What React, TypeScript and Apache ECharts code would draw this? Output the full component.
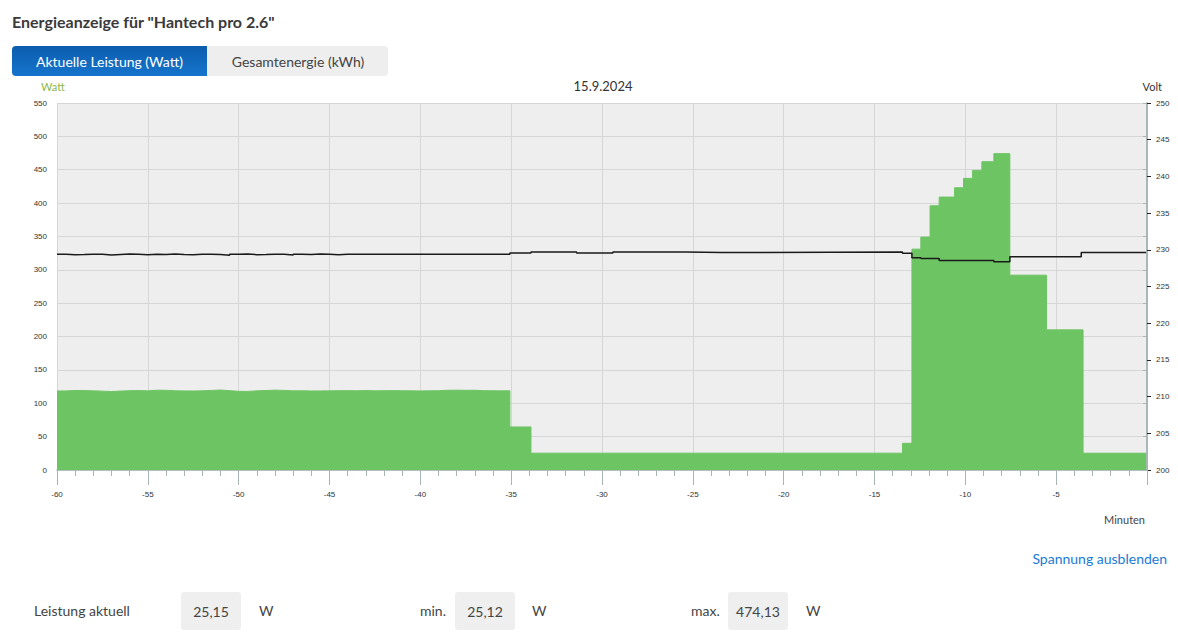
import React, { useEffect, useRef } from 'react';
import * as echarts from 'echarts';

// Power (W), step values: each value holds until the next time (minutes)
const powerTimes = [
  -60, -59.5, -59, -58.5, -58, -57.5, -57, -56.5, -56, -55.5,
  -55, -54.5, -54, -53.5, -53, -52.5, -52, -51.5, -51, -50.5,
  -50, -49.5, -49, -48.5, -48, -47.5, -47, -46.5, -46, -45.5,
  -45, -44.5, -44, -43.5, -43, -42.5, -42, -41.5, -41, -40.5,
  -40, -39.5, -39, -38.5, -38, -37.5, -37, -36.5, -36, -35.5,
  -35.07, -33.91, -13.46, -12.94, -12.45, -11.94, -11.44, -10.59, -10.1, -9.6,
  -9.09, -8.43, -7.55, -5.53, -3.52, -0.05,
];
const powerWatts = [
  118.5, 119.2, 119.0, 118.6, 118.2, 117.6, 118.3, 118.8, 119.0, 118.6,
  119.6, 119.4, 118.7, 118.5, 118.4, 118.6, 119.3, 119.8, 118.9, 117.9,
  117.8, 118.6, 119.1, 119.7, 119.2, 118.6, 118.7, 118.4, 118.5, 118.6,
  118.8, 118.9, 118.7, 119.0, 118.6, 118.8, 118.9, 118.7, 118.6, 118.5,
  118.6, 118.8, 119.5, 119.6, 119.4, 119.5, 118.9, 118.7, 118.6, 118.7,
  64.5, 25.2, 40.0, 331.0, 349.0, 396.0, 409.0, 423.0, 437.0, 449.0,
  462.0, 474.13, 292.0, 210.0, 25.15, 25.15,
];

// Voltage (V), step values
const voltTimes = [
  -60, -59.5, -59, -58.5, -58, -57.5, -57, -56.5, -56, -55.5,
  -55, -54.5, -54, -53.5, -53, -52.5, -52, -51.5, -51, -50.5,
  -50, -49.5, -49, -48.5, -48, -47.5, -47, -46.5, -46, -45.5,
  -45, -44.5, -44, -43.5, -35.07, -33.91, -31.4, -29.4, -25.4, -23.4,
  -13.46, -12.94, -12.45, -11.44, -8.43, -7.55, -3.62, -0.05,
];
const voltValues = [
  229.40, 229.32, 229.35, 229.41, 229.38, 229.30, 229.36, 229.42, 229.39, 229.33,
  229.40, 229.37, 229.43, 229.35, 229.31, 229.38, 229.41, 229.36, 229.27, 229.39,
  229.42, 229.34, 229.37, 229.41, 229.38, 229.29, 229.40, 229.36, 229.42, 229.38,
  229.33, 229.39, 229.41, 229.40, 229.55, 229.70, 229.56, 229.70, 229.62, 229.70,
  229.52, 228.90, 228.80, 228.55, 228.38, 229.06, 229.62, 229.62,
];

const dateLabel = '15.9.2024';
const leistungAktuell = '25,15';
const leistungMin = '25,12';
const leistungMax = '474,13';

const FONT = 'Lato, "Noto Sans", sans-serif';
const AXIS_FONT = '"Liberation Sans", Arial, sans-serif';

function Chart() {
  const ref = useRef<HTMLDivElement>(null);
  useEffect(() => {
    if (!ref.current) return;
    const chart = echarts.init(ref.current, undefined, { renderer: 'svg' });
    const powerData = powerTimes.map((t, i) => [t, powerWatts[i]]);
    const voltData = voltTimes.map((t, i) => [t, voltValues[i]]);
    const green = '#6dc463';
    chart.setOption({
      animation: false,
      grid: {
        left: 57,
        right: 31,
        top: 103,
        bottom: 70,
        show: true,
        backgroundColor: '#eeeeee',
        borderWidth: 0,
      },
      graphic: [
        {
          type: 'text',
          x: 603,
          y: 86,
          style: {
            text: dateLabel,
            fill: '#333333',
            font: '13px ' + FONT,
            textAlign: 'center',
            textVerticalAlign: 'middle',
          },
        },
        {
          type: 'text',
          x: 41,
          y: 86,
          style: {
            text: 'Watt',
            fill: '#8db84a',
            font: '11px ' + FONT,
            textAlign: 'left',
            textVerticalAlign: 'middle',
          },
        },
        {
          type: 'text',
          x: 1162,
          y: 86,
          style: {
            text: 'Volt',
            fill: '#333333',
            font: '11px ' + FONT,
            textAlign: 'right',
            textVerticalAlign: 'middle',
          },
        },
        {
          type: 'text',
          x: 1145,
          y: 519,
          style: {
            text: 'Minuten',
            fill: '#444444',
            font: '11px ' + FONT,
            textAlign: 'right',
            textVerticalAlign: 'middle',
          },
        },
      ],
      xAxis: {
        type: 'value',
        min: -60,
        max: 0,
        interval: 5,
        axisLine: { show: true, onZero: false, lineStyle: { color: '#a7b5b5', width: 1.5 } },
        axisTick: { show: true, length: 15, lineStyle: { color: '#a7b5b5', width: 1 } },
        minorTick: { show: true, splitNumber: 5, length: 6, lineStyle: { color: '#a7b5b5', width: 1 } },
        splitLine: { show: true, lineStyle: { color: '#d6d6d6', width: 1 } },
        axisLabel: {
          margin: 20,
          fontSize: 8,
          fontFamily: AXIS_FONT,
          color: '#333333',
          showMaxLabel: false,
        },
      },
      yAxis: [
        {
          type: 'value',
          min: 0,
          max: 550,
          interval: 50,
          axisLine: { show: true, lineStyle: { color: '#a7b5b5', width: 1.5 } },
          axisTick: { show: true, length: 4, lineStyle: { color: '#a7b5b5' } },
          splitLine: { show: true, lineStyle: { color: '#d6d6d6', width: 1 } },
          axisLabel: { margin: 10, fontSize: 8, fontFamily: AXIS_FONT, color: '#333333' },
        },
        {
          type: 'value',
          min: 200,
          max: 250,
          interval: 5,
          position: 'right',
          axisLine: { show: true, lineStyle: { color: '#a7b5b5', width: 1.5 } },
          axisTick: { show: true, length: 4, lineStyle: { color: '#222222' } },
          splitLine: { show: false },
          axisLabel: { margin: 9, fontSize: 8, fontFamily: AXIS_FONT, color: '#333333' },
        },
      ],
      series: [
        {
          name: 'Leistung',
          type: 'line',
          step: 'end',
          data: powerData,
          yAxisIndex: 0,
          symbol: 'none',
          lineStyle: { color: green, width: 1 },
          areaStyle: { color: green, opacity: 1 },
          z: 2,
        },
        {
          name: 'Spannung',
          type: 'line',
          step: 'end',
          data: voltData,
          yAxisIndex: 1,
          symbol: 'none',
          lineStyle: { color: '#1a1a1a', width: 1.5 },
          z: 3,
        },
      ],
    });
    return () => chart.dispose();
  }, []);
  return (
    <div
      ref={ref}
      style={{ position: 'absolute', left: 0, top: 0, width: 1178, height: 540 }}
    />
  );
}

const valueBox: React.CSSProperties = {
  position: 'absolute',
  top: 592,
  width: 60,
  height: 38,
  background: '#efefef',
  borderRadius: 3,
  display: 'flex',
  alignItems: 'center',
  justifyContent: 'center',
  fontSize: 14,
  color: '#444',
};

const plainText = (left: number, top: number): React.CSSProperties => ({
  position: 'absolute',
  left,
  top,
  fontSize: 14,
  color: '#444',
  lineHeight: '18px',
  whiteSpace: 'nowrap',
});

export default function App() {
  return (
    <div
      style={{
        position: 'absolute',
        left: 0,
        top: 0,
        width: 1178,
        height: 641,
        background: '#ffffff',
        fontFamily: FONT,
        overflow: 'hidden',
      }}
    >
      <div
        style={{
          position: 'absolute',
          left: 12,
          top: 11,
          fontSize: 16,
          fontWeight: 700,
          color: '#3a3a3a',
          lineHeight: '22px',
          whiteSpace: 'nowrap',
        }}
      >
        Energieanzeige für "Hantech pro 2.6"
      </div>
      <div
        style={{
          position: 'absolute',
          left: 12,
          top: 46,
          width: 376,
          height: 30,
          background: '#eeeeee',
          borderRadius: 4,
          overflow: 'hidden',
        }}
      >
        <div
          style={{
            position: 'absolute',
            left: 0,
            top: 0,
            width: 195,
            height: 30,
            background: 'linear-gradient(180deg, #0b5dae 0%, #1674cc 100%)',
            color: '#ffffff',
            fontSize: 14,
            display: 'flex',
            alignItems: 'center',
            justifyContent: 'center',
          }}
        >
          Aktuelle Leistung (Watt)
        </div>
        <div
          style={{
            position: 'absolute',
            left: 196,
            top: 0,
            width: 180,
            height: 30,
            color: '#444444',
            fontSize: 14,
            display: 'flex',
            alignItems: 'center',
            justifyContent: 'center',
          }}
        >
          Gesamtenergie (kWh)
        </div>
      </div>
      <Chart />
      <div
        style={{
          position: 'absolute',
          right: 11,
          top: 550,
          fontSize: 14,
          color: '#1a7ad6',
          lineHeight: '18px',
          whiteSpace: 'nowrap',
        }}
      >
        Spannung ausblenden
      </div>
      <div style={plainText(34, 602)}>Leistung aktuell</div>
      <div style={{ ...valueBox, left: 181 }}>{leistungAktuell}</div>
      <div style={plainText(259, 602)}>W</div>
      <div style={plainText(420, 602)}>min.</div>
      <div style={{ ...valueBox, left: 455 }}>{leistungMin}</div>
      <div style={plainText(532, 602)}>W</div>
      <div style={plainText(691, 602)}>max.</div>
      <div style={{ ...valueBox, left: 728 }}>{leistungMax}</div>
      <div style={plainText(806, 602)}>W</div>
    </div>
  );
}
